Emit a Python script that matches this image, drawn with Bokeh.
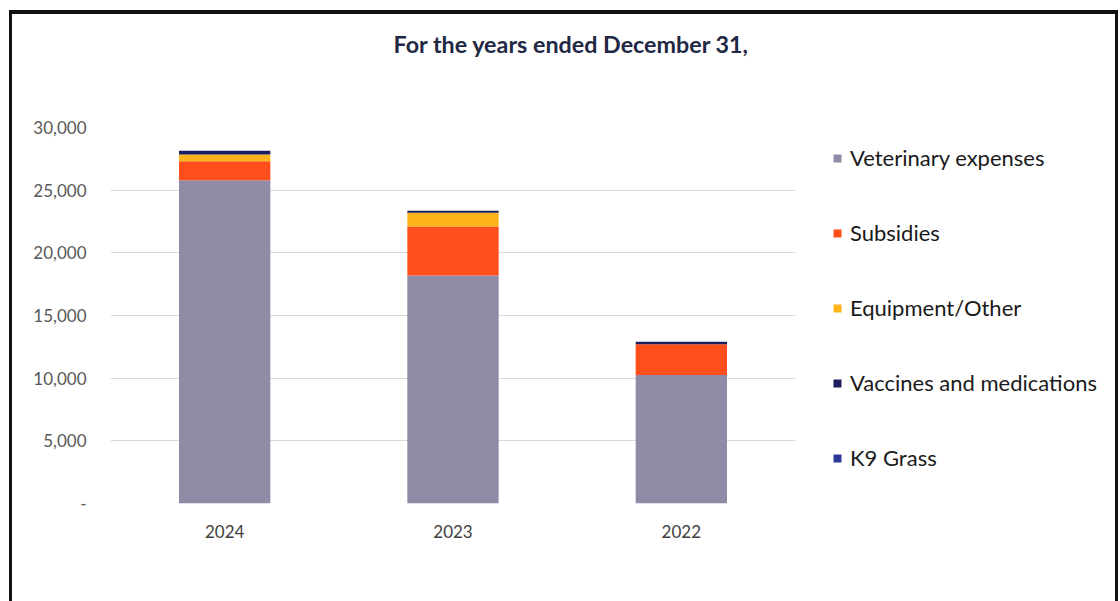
from bokeh.plotting import figure
from bokeh.layouts import row
from bokeh.models import (Range1d, CustomJSTickFormatter, Legend, LegendItem,
                          ColumnDataSource, Title)
from bokeh.embed import file_html
from bokeh.resources import INLINE

# ---- data ----
years = ["2024", "2023", "2022"]
veterinary = [25800, 18200, 10250]
subsidies = [1500, 3900, 2450]
equipment = [550, 1100, 0]
vaccines = [300, 150, 200]
k9_grass = [0, 0, 0]
series = ["Veterinary expenses", "Subsidies", "Equipment/Other",
          "Vaccines and medications", "K9 Grass"]
colors = ["#918AA6", "#FF4D1C", "#FFB31A", "#1C1F5E", "#2B3A96"]
y_ticks = [0, 5000, 10000, 15000, 20000, 25000, 30000]
title_text = "For the years ended December 31,"

src = ColumnDataSource(dict(year=years, s0=veterinary, s1=subsidies,
                            s2=equipment, s3=vaccines, s4=k9_grass))
stackers = ["s0", "s1", "s2", "s3", "s4"]

W, H = 1103, 587
W1 = 815
FL, FT, FR, FB = 98, 112, 783, 489   # frame edges in canvas px
p = figure(x_range=years, y_range=Range1d(0, 30000), width=W1, height=H,
           output_backend="svg", toolbar_location=None, title=None,
           min_border_left=FL, min_border_right=W1 - FR,
           min_border_top=FT, min_border_bottom=H - FB)
p.outline_line_color = None
p.background_fill_color = "white"
p.border_fill_color = "white"

renderers = p.vbar_stack(stackers, x="year", width=0.4,
                         color=colors, source=src, line_color=None)

# axes
p.yaxis.ticker = y_ticks
p.yaxis.formatter = CustomJSTickFormatter(
    code="return tick == 0 ? '-' : tick.toLocaleString('en-US');")
p.yaxis.axis_line_color = None
p.yaxis.major_tick_line_color = None
p.yaxis.minor_tick_line_color = None
p.yaxis.major_label_standoff = 18
p.yaxis.major_label_text_font = "Lato"
p.yaxis.major_label_text_font_size = "17px"
p.yaxis.major_label_text_color = "#595959"

p.xaxis.axis_line_color = None
p.xaxis.major_tick_line_color = None
p.xaxis.major_label_standoff = 15
p.xaxis.major_label_text_font = "Lato"
p.xaxis.major_label_text_font_size = "17px"
p.xaxis.major_label_text_color = "#404040"

p.xgrid.grid_line_color = None
p.ygrid.grid_line_color = "#D9D9D9"
p.ygrid.grid_line_width = 1

# spacer panel next to the frame, then the title above it
spacer = Title(text=" ", text_font_size="10px", standoff=44)
p.add_layout(spacer, "above")
title = Title(text=title_text, align="left", offset=283, standoff=26,
              text_font="Lato", text_font_style="bold", text_font_size="23.3px",
              text_color="#1F2844")
p.add_layout(title, "above")

# legend figure (to the right of the chart); its bars are hidden, only
# their legend swatches show
p2 = figure(width=W - W1, height=H, x_range=years, y_range=Range1d(0, 30000),
            output_backend="svg", toolbar_location=None, title=None,
            x_axis_type=None, y_axis_type=None,
            min_border_left=0, min_border_right=0,
            min_border_top=FT, min_border_bottom=H - FB)
p2.outline_line_color = None
p2.xgrid.grid_line_color = None
p2.ygrid.grid_line_color = None
p2.border_fill_color = "white"
p2.background_fill_color = "white"
swatches = p2.vbar_stack(stackers, x="year", width=0.4, color=colors,
                         source=src, line_color=None)
for r in swatches:
    r.visible = False
items = [LegendItem(label=s, renderers=[r]) for s, r in zip(series, swatches)]
legend = Legend(items=items, location=(5, 32),
                label_text_font="Lato", label_text_font_size="22px",
                label_text_color="#1A1A1A", glyph_width=10, glyph_height=10,
                label_height=22, spacing=48, padding=0, margin=0,
                label_standoff=8, inactive_fill_alpha=0,
                border_line_color=None, background_fill_alpha=0)
p2.add_layout(legend, "center")

layout = row(p, p2, styles={"margin-left": "9px", "margin-top": "10px",
                            "border-left": "3px solid #111111",
                            "border-top": "4px solid #111111",
                            "border-right": "3px solid #111111"})

open("out.html", "w").write(file_html(layout, INLINE))
